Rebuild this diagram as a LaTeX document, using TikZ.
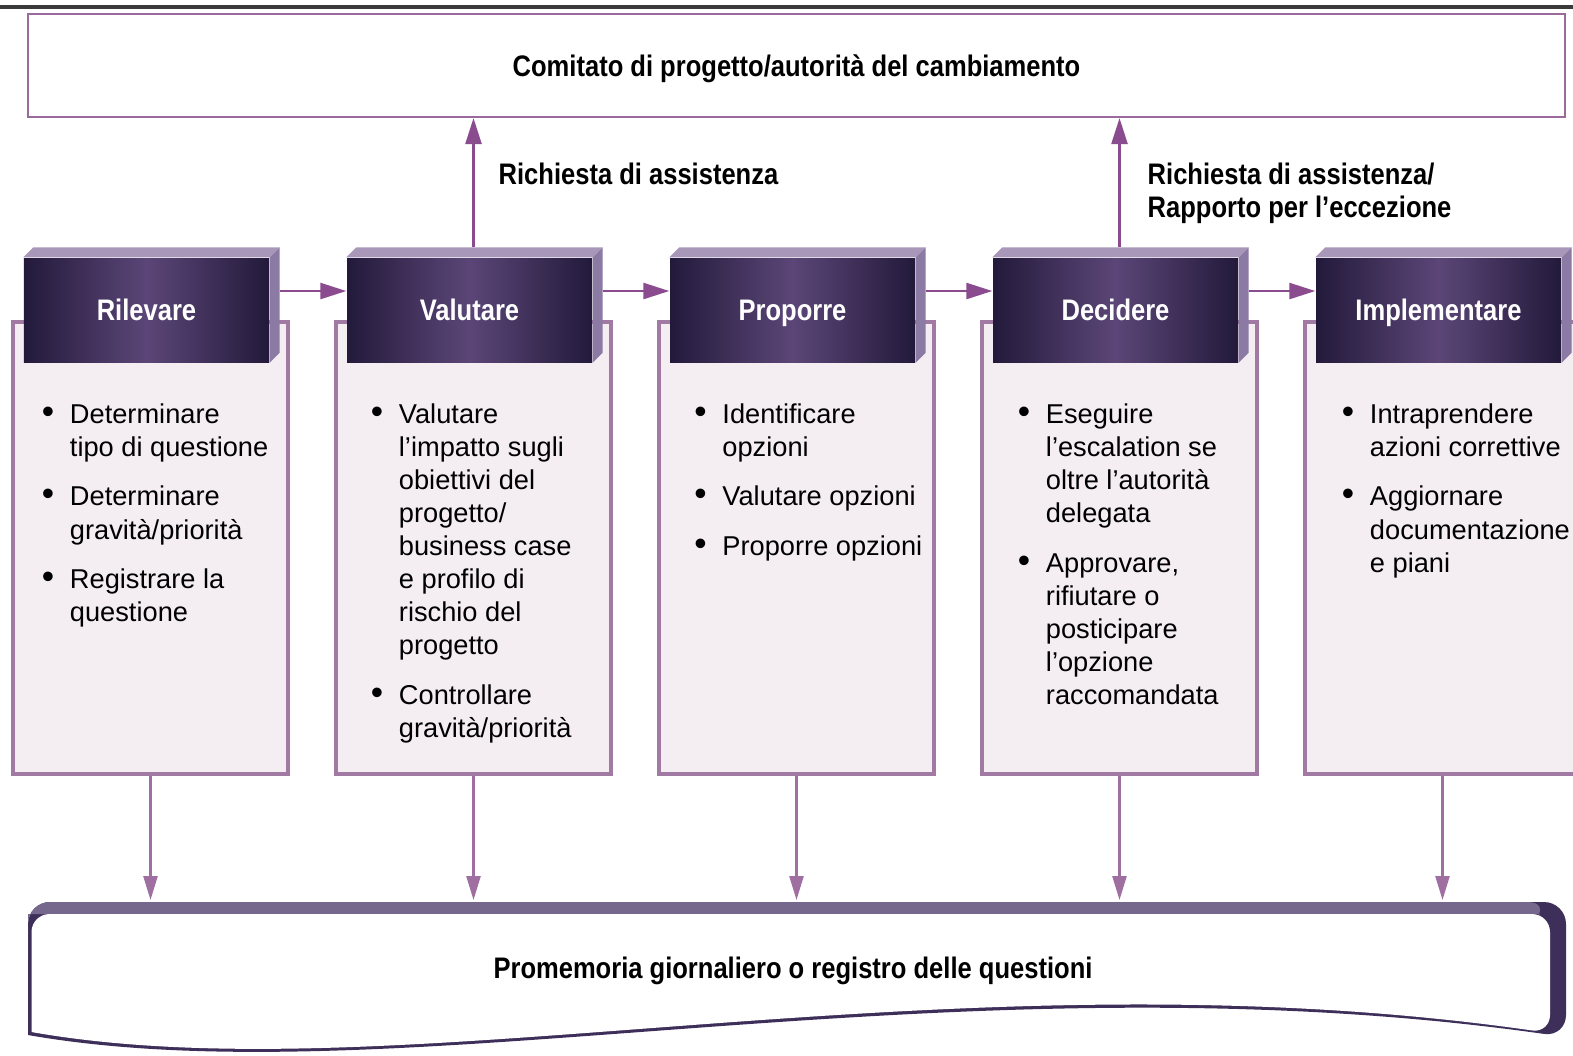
\documentclass[tikz,border=0pt]{standalone}
\usepackage{fontspec}
\setmainfont{Liberation Sans}
\newfontfamily\labfont{Liberation Sans}[FakeStretch=0.86]
\usetikzlibrary{arrows.meta,positioning,calc}
\definecolor{FramePurple}{HTML}{9A6A9C}
\definecolor{ArrowPurple}{HTML}{8A4B8F}
\definecolor{DownPurple}{HTML}{A06FA2}
\definecolor{BodyFill}{HTML}{F4EDF1}
\definecolor{BodyLine}{HTML}{A07AA3}
\definecolor{HeadDark}{HTML}{231A3B}
\definecolor{HeadMid}{HTML}{5B4677}
\definecolor{HeadTop}{HTML}{A897B8}
\definecolor{HeadSide}{HTML}{8B7AA3}
\definecolor{BandTop}{HTML}{76678D}
\definecolor{BandDark}{HTML}{3D2F59}
\definecolor{TopLine}{HTML}{3A3A3A}
\newcommand{\bul}{\makebox[0.28cm][l]{\fontsize{10}{10}\selectfont\textbullet}}

\begin{document}
\begin{tikzpicture}[
    head/.style={minimum width=2.45cm, minimum height=1.04cm, inner sep=0pt, text height=0.26cm, text depth=0.06cm, left color=HeadDark, right color=HeadDark, middle color=HeadMid, text=white, font=\labfont\bfseries\fontsize{8.45}{10}\selectfont},
    body/.style={draw=BodyLine, line width=1pt, fill=BodyFill, minimum width=2.75cm, minimum height=4.52cm, inner sep=0pt},
    items/.style={anchor=base west, inner sep=0pt, font=\fontsize{7.75}{9.4}\selectfont},
    lab/.style={font=\labfont\bfseries\fontsize{8.45}{9.4}\selectfont, align=left, inner sep=0pt},
    flow/.style={-{Triangle[length=2.6mm,width=1.6mm]}, line width=0.7pt, ArrowPurple},
    down/.style={-{Triangle[length=2.4mm,width=1.4mm]}, line width=0.7pt, DownPurple},
]
    \useasboundingbox (0,0) rectangle (15.73,-10.55);
    \clip (0,0) rectangle (15.73,-10.55);
    \draw[TopLine, line width=0.9pt] (0,-0.07) -- (15.73,-0.07);

    % committee box
    \node[lab, draw=FramePurple, line width=0.6pt, minimum width=15.37cm, minimum height=1.03cm, text height=0.28cm, text depth=0.06cm] (board) at (7.965,-0.655) {Comitato di progetto/autorità del cambiamento};

    % process steps
    \foreach \title [count=\i] in {Rilevare,Valutare,Proporre,Decidere,Implementare}{
        \node[body] (b\i) at ({1.505+3.23*(\i-1)},-5.48) {};
        \node[head] (h\i) at ({1.465+3.23*(\i-1)},-3.10) {\title};
        \fill[HeadTop] (h\i.north west) -- ++(0.1,0.1) -- ($(h\i.north east)+(0.1,0.1)$) -- (h\i.north east) -- cycle;
        \fill[HeadSide] (h\i.north east) -- ++(0.1,0.1) -- ($(h\i.south east)+(0.1,0.1)$) -- (h\i.south east) -- cycle;
    }
    \foreach \i [evaluate=\i as \j using int(\i+1)] in {1,...,4}
        \draw[flow] ($(h\i.east)+(0.1,0.19)$) -- ($(h\j.west)+(0,0.19)$);

    % bullet lists
    \node[items] (l1) at ($(b1.west |- 0,-4.23)+(0.30,0)$) {\begin{tabular}[t]{@{}l@{}l@{}}
        \bul & Determinare\\ & tipo di questione\\[4.8pt]
        \bul & Determinare\\ & gravità/priorità\\[4.8pt]
        \bul & Registrare la\\ & questione
    \end{tabular}};
    \node[items] (l2) at ($(b2.west |- 0,-4.23)+(0.36,0)$) {\begin{tabular}[t]{@{}l@{}l@{}}
        \bul & Valutare\\ & l’impatto sugli\\ & obiettivi del\\ & progetto/\\ & business case\\ & e profilo di\\ & rischio del\\ & progetto\\[4.8pt]
        \bul & Controllare\\ & gravità/priorità
    \end{tabular}};
    \node[items] (l3) at ($(b3.west |- 0,-4.23)+(0.365,0)$) {\begin{tabular}[t]{@{}l@{}l@{}}
        \bul & Identificare\\ & opzioni\\[4.8pt]
        \bul & Valutare opzioni\\[4.8pt]
        \bul & Proporre opzioni
    \end{tabular}};
    \node[items] (l4) at ($(b4.west |- 0,-4.23)+(0.37,0)$) {\begin{tabular}[t]{@{}l@{}l@{}}
        \bul & Eseguire\\ & l'escalation se\\ & oltre l’autorità\\ & delegata\\[4.8pt]
        \bul & Approvare,\\ & rifiutare o\\ & posticipare\\ & l’opzione\\ & raccomandata
    \end{tabular}};
    \node[items] (l5) at ($(b5.west |- 0,-4.23)+(0.38,0)$) {\begin{tabular}[t]{@{}l@{}l@{}}
        \bul & Intraprendere\\ & azioni correttive\\[4.8pt]
        \bul & Aggiornare\\ & documentazione\\ & e piani
    \end{tabular}};

    % escalation to the committee
    \draw[flow] ($(b2.north |- h2.north)+(0,0.1)$) -- (b2.north |- board.south);
    \draw[flow] ($(b4.north |- h4.north)+(0,0.1)$) -- (b4.north |- board.south);
    \node[lab, anchor=west] (ask) at ($(b2.north |- board.south)+(0.245,-0.56)$) {Richiesta di assistenza};
    \node[lab, anchor=west] (report) at ($(b4.north |- board.south)+(0.275,-0.755)$) {Richiesta di assistenza/\\Rapporto per l’eccezione};

    % issue register banner
    \fill[BandDark] (0.28,-10.35) [rounded corners=0.22cm] -- (0.28,-9.02) -- (15.66,-9.02) -- (15.66,-10.37) [sharp corners] .. controls (9.5,-9.5) and (4,-11.0) .. (0.28,-10.35) -- cycle;
    \fill[BandTop] (0.28,-9.6) [rounded corners=0.22cm] -- (0.28,-9.02) -- (15.50,-9.02) [sharp corners] -- (15.40,-9.14) -- (0.28,-9.14) -- cycle;
    \fill[white] (0.315,-10.32) [rounded corners=0.18cm] -- (0.315,-9.14) -- (15.50,-9.14) -- (15.50,-10.33) [sharp corners] .. controls (9.5,-9.47) and (4,-10.97) .. (0.315,-10.32) -- cycle;
    \node[lab] (memo) at (7.93,-9.71) {Promemoria giornaliero o registro delle questioni};
    \coordinate (bantop) at (7.93,-9.0);
    \foreach \i in {1,...,5}
        \draw[down] (b\i.south) -- (b\i.south |- bantop);
\end{tikzpicture}
\end{document}
